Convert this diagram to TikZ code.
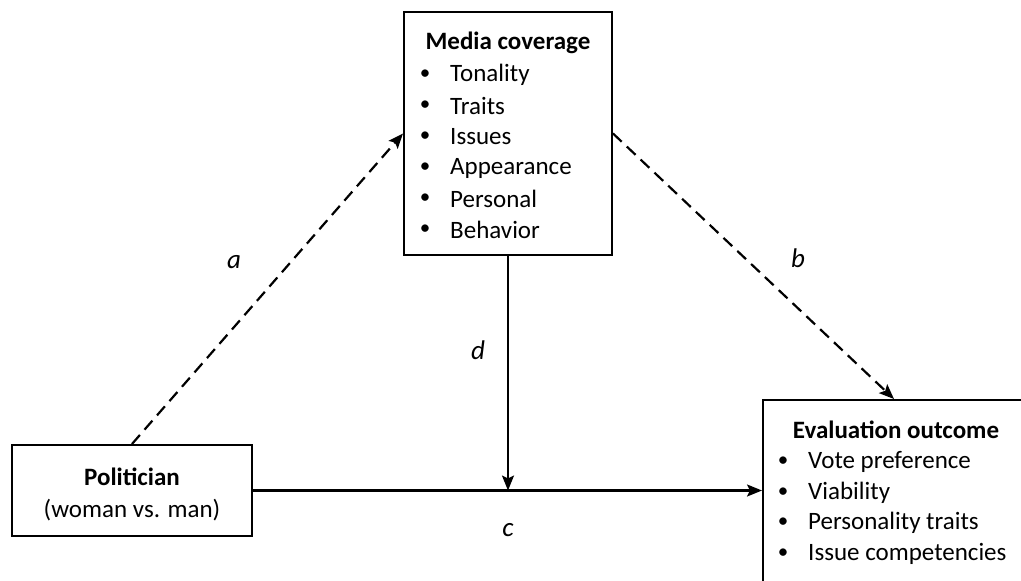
\documentclass[tikz,border=0pt]{standalone}
\usepackage{fontspec}
\setmainfont{Carlito}
\usetikzlibrary{arrows.meta}
\begin{document}
\begin{tikzpicture}[x=1pt, y=-1pt,
	box/.style={
		rectangle,
		draw=black,
		line width=2pt,
		inner sep=0pt
	},
	title/.style={
		font=\fontsize{25}{30}\selectfont\bfseries,
		inner sep=0pt
	},
	item/.style={
		font=\fontsize{25}{30}\selectfont,
		anchor=west,
		inner sep=0pt
	},
	bullet/.style={
		font=\fontsize{21}{30}\selectfont,
		inner sep=0pt
	},
	subtitle/.style={
		font=\fontsize{25}{30}\selectfont,
		inner sep=0pt
	},
	pathlabel/.style={
		font=\fontsize{27}{30}\selectfont\itshape,
		inner sep=0pt
	},
	solidarrow/.style={
		line width=2.2pt,
		-{Stealth[length=15pt,width=12pt,inset=3pt]}
	},
	dashedarrow/.style={
		solidarrow,
		dash pattern=on 12pt off 7pt
	},
]
\clip (0,0) rectangle (1021,581);

% boxes
\node[box, minimum width=208pt, minimum height=243pt] (media) at (508,133.5) {};
\node[box, minimum width=240pt, minimum height=91pt] (pol) at (132,490.5) {};
\node[box, minimum width=262pt, minimum height=200pt, anchor=north west] (eval) at (762,399) {};

% media coverage
\node[title] (mediatitle) at (508,43) {Media coverage};
\foreach \t [count=\i from 0] in {Tonality, Traits, Issues, Appearance, Personal, Behavior} {
	\node[bullet] (mb\i) at (425,75+31*\i) {•};
	\node[item] (mi\i) at (450,75+31*\i) {\t};
}

% politician
\node[title] (poltitle) at (132,477) {Politician};
\node[subtitle] (polsub) at (132,510) {(woman vs. man)};

% evaluation outcome
\node[title] (evaltitle) at (896,430) {Evaluation outcome};
\foreach \t [count=\i from 0] in {Vote preference, Viability, Personality traits, Issue competencies} {
	\node[bullet] (eb\i) at (783,462+30.5*\i) {•};
	\node[item] (ei\i) at (808,462+30.5*\i) {\t};
}

% paths
\coordinate (mid) at (508,490.5);
\draw[dashedarrow] (pol.north) -- (media.west);
\draw[dashedarrow] (media.east) -- (eval.north);
\draw[solidarrow] (media.south) -- (mid);
\draw[solidarrow] (pol.east) -- (eval.west |- pol.east);

\node[pathlabel] (la) at (234,262) {a};
\node[pathlabel] (lb) at (798,258) {b};
\node[pathlabel] (ld) at (478,350) {d};
\node[pathlabel] (lc) at (508,530) {c};

\end{tikzpicture}
\end{document}
